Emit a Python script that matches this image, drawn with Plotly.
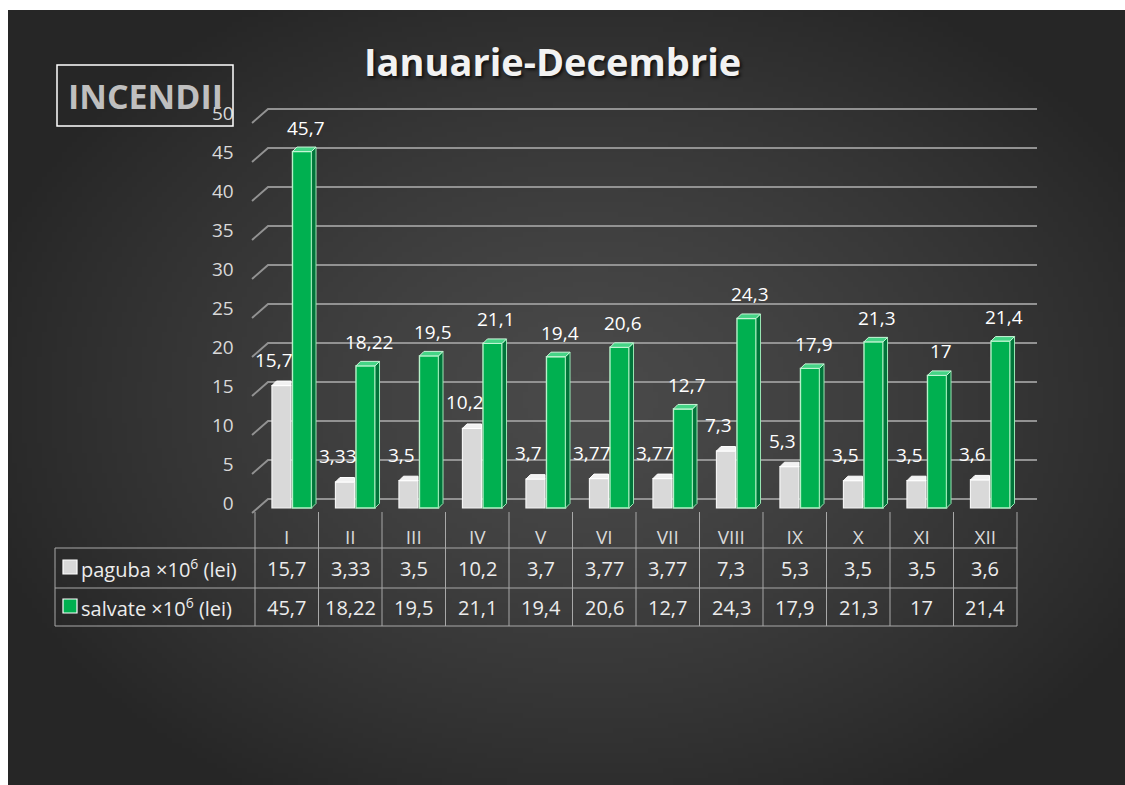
import base64
import struct
import zlib

import numpy as np
import plotly.graph_objects as go

# ---------------- data ----------------
months = ["I", "II", "III", "IV", "V", "VI", "VII", "VIII", "IX", "X", "XI", "XII"]
paguba = [15.7, 3.33, 3.5, 10.2, 3.7, 3.77, 3.77, 7.3, 5.3, 3.5, 3.5, 3.6]
salvate = [45.7, 18.22, 19.5, 21.1, 19.4, 20.6, 12.7, 24.3, 17.9, 21.3, 17, 21.4]
y_ticks = [0, 5, 10, 15, 20, 25, 30, 35, 40, 45, 50]
series_names = ["paguba ×10<sup>6</sup> (lei)", "salvate ×10<sup>6</sup> (lei)"]
title_text = "Ianuarie-Decembrie"
badge_text = "INCENDII"

# ---------------- geometry (page pixels) ----------------
W, H = 1125, 785          # figure fills the whole page (body margin removed)
OX, OY = 0, 0
FRAME_L, FRAME_T = 8, 10  # white frame of the original picture


def fx(xp):
    return (xp - OX) / W


def fy(yp):
    return 1 - (yp - OY) / H


COL0, COLW = 255.0, 63.5          # first table column left edge, column width
X_RANGE = [-0.6, 11.9]
left_px = COL0 + COLW * (X_RANGE[0] + 0.5)
right_px = COL0 + COLW * (X_RANGE[1] + 0.5)
BASE_PX, PPU = 508.0, 7.8         # zero line of bars, pixels per unit
top_px, bot_px = 100.0, 520.0
Y_RANGE = [(BASE_PX - bot_px) / PPU, (BASE_PX - top_px) / PPU]

G_OFF, S_OFF, BW = -0.083, 0.24, 0.30
DX, DY = 4.5 / COLW, 4.5 / PPU    # 3-D depth of bars

FONT = "Open Sans"
GREY, GREEN = "#d9d9d9", "#00b050"


def fmt(v):
    return f"{v:g}".replace(".", ",")


# ---------------- background gradient image ----------------
def gradient_png():
    gw, gh = 225, 157
    yy, xx = np.mgrid[0:gh, 0:gw]
    xp = (xx + 0.5) * W / gw
    yp = (yy + 0.5) * H / gh
    d = np.sqrt(((xp - 590) / 640.0) ** 2 + ((yp - 400) / 470.0) ** 2)
    val = 74 - (74 - 38) * np.clip(d, 0, 1) ** 1.3
    arr = np.clip(val, 0, 255).astype(np.uint8)
    raw = b"".join(b"\x00" + arr[r].tobytes() for r in range(gh))

    def chunk(tag, data):
        c = struct.pack(">I", len(data)) + tag + data
        return c + struct.pack(">I", zlib.crc32(tag + data) & 0xFFFFFFFF)

    png = b"\x89PNG\r\n\x1a\n"
    png += chunk(b"IHDR", struct.pack(">IIBBBBB", gw, gh, 8, 0, 0, 0, 0))
    png += chunk(b"IDAT", zlib.compress(raw, 9))
    png += chunk(b"IEND", b"")
    return "data:image/png;base64," + base64.b64encode(png).decode()


fig = go.Figure()

# ---------------- bars (front faces) ----------------
xg = [i + G_OFF for i in range(len(months))]
xs = [i + S_OFF for i in range(len(months))]

fig.add_trace(go.Bar(x=xg, y=paguba, width=BW, name="paguba",
                     marker=dict(color=GREY, line=dict(color="#f4f4f4", width=1.2)),
                     hoverinfo="skip", showlegend=False))
fig.add_trace(go.Bar(x=xs, y=salvate, width=BW, name="salvate",
                     marker=dict(color=GREEN, line=dict(color="#b6f2c9", width=1.4)),
                     hoverinfo="skip", showlegend=False))


# ---------------- 3-D side and top faces ----------------
def faces(xc_list, vals, clip_right):
    sx, sy, tx, ty = [], [], [], []
    for xc, v in zip(xc_list, vals):
        xl, xr = xc - BW / 2, xc + BW / 2
        sx += [xr, xr + DX, xr + DX, xr, xr, None]
        sy += [0, DY, v + DY, v, 0, None]
        if clip_right:
            tx += [xl, xl + DX, xr, xr, xl, None]
        else:
            tx += [xl, xl + DX, xr + DX, xr, xl, None]
        ty += [v, v + DY, v + DY, v, v, None]
    return sx, sy, tx, ty


gsx, gsy, gtx, gty = faces(xg, paguba, True)
ssx, ssy, stx, sty = faces(xs, salvate, False)
fig.add_trace(go.Scatter(x=gtx, y=gty, fill="toself", mode="lines",
                         fillcolor="#f2f2f2", line=dict(color="#ffffff", width=1),
                         hoverinfo="skip", showlegend=False))
fig.add_trace(go.Scatter(x=ssx, y=ssy, fill="toself", mode="lines",
                         fillcolor="#00753a", line=dict(color="#9be8b5", width=1),
                         hoverinfo="skip", showlegend=False))
fig.add_trace(go.Scatter(x=stx, y=sty, fill="toself", mode="lines",
                         fillcolor="#45d486", line=dict(color="#c8f7d8", width=1),
                         hoverinfo="skip", showlegend=False))

shapes = []

# white frame strips of the original picture
shapes.append(dict(type="rect", xref="paper", yref="paper", layer="above",
                   x0=0, x1=fx(FRAME_L), y0=0, y1=1,
                   fillcolor="#ffffff", line=dict(width=0)))
shapes.append(dict(type="rect", xref="paper", yref="paper", layer="above",
                   x0=0, x1=1, y0=fy(FRAME_T), y1=1,
                   fillcolor="#ffffff", line=dict(width=0)))

# ---------------- back-wall gridlines (through axes) ----------------
FRONT_X, BACK_X, END_X = -0.547, -0.295, 11.815
FRONT_DY, BACK_DY = -0.64, 1.154
for v in y_ticks:
    shapes.append(dict(
        type="path", xref="x", yref="y", layer="below",
        path=f"M {FRONT_X},{v + FRONT_DY} L {BACK_X},{v + BACK_DY} L {END_X},{v + BACK_DY}",
        line=dict(color="#929292", width=2)))

# ---------------- data table ----------------
TBL_L = 55
HDR_T, R1_T, R2_T, R2_B = 512, 548, 588, 626
TBL_R = COL0 + COLW * len(months)
LC = "#a8a8a8"
for i in range(len(months) + 1):
    xp = COL0 + COLW * i
    shapes.append(dict(type="line", xref="paper", yref="paper",
                       x0=fx(xp), x1=fx(xp), y0=fy(HDR_T), y1=fy(R2_B),
                       line=dict(color=LC, width=1)))
shapes.append(dict(type="line", xref="paper", yref="paper",
                   x0=fx(TBL_L), x1=fx(TBL_L), y0=fy(R1_T), y1=fy(R2_B),
                   line=dict(color=LC, width=1)))
for yp in (R1_T, R2_T, R2_B):
    shapes.append(dict(type="line", xref="paper", yref="paper",
                       x0=fx(TBL_L), x1=fx(TBL_R), y0=fy(yp), y1=fy(yp),
                       line=dict(color=LC, width=1)))

# legend keys
for yp0, col in ((560, GREY), (599, GREEN)):
    shapes.append(dict(type="rect", xref="paper", yref="paper",
                       x0=fx(63), x1=fx(77), y0=fy(yp0), y1=fy(yp0 + 14),
                       fillcolor=col, line=dict(color="#ffffff", width=1.2)))

# INCENDII box
shapes.append(dict(type="rect", xref="paper", yref="paper",
                   x0=fx(57), x1=fx(233), y0=fy(65), y1=fy(126),
                   line=dict(color="#ffffff", width=1.5)))

C = dict(xanchor="center", yanchor="middle", showarrow=False)
annotations = []
# title
annotations.append(dict(text=f"<b>{title_text}</b>", x=fx(552), y=fy(61),
                        xref="paper", yref="paper", **C,
                        font=dict(family=FONT, size=38, color="#f2f2f2",
                                  shadow="2px 2px 3px #111111")))
annotations.append(dict(text=f"<b>{badge_text}</b>", x=fx(145), y=fy(96),
                        xref="paper", yref="paper", **C,
                        font=dict(family=FONT, size=34, color="#bfbfbf")))

# data labels
for xc, v in zip(xg, paguba):
    annotations.append(dict(text=fmt(v), x=xc, y=v, xref="x", yref="y", **C,
                            xshift=-7, yshift=26,
                            font=dict(family=FONT, size=19, color="#ffffff")))
for xc, v in zip(xs, salvate):
    annotations.append(dict(text=fmt(v), x=xc, y=v, xref="x", yref="y", **C,
                            xshift=4, yshift=24,
                            font=dict(family=FONT, size=19, color="#ffffff")))

# table values
for row_vals, yc in ((paguba, 568), (salvate, 607)):
    for i, v in enumerate(row_vals):
        annotations.append(dict(text=fmt(v), x=i, y=fy(yc), xref="x", yref="paper", **C,
                                font=dict(family=FONT, size=20, color="#ececec")))
for name, yc in zip(series_names, (568, 607)):
    annotations.append(dict(text=name, x=fx(79), y=fy(yc), xref="paper", yref="paper",
                            xanchor="left", yanchor="middle", showarrow=False,
                            font=dict(family=FONT, size=20, color="#ececec")))

fig.update_layout(
    width=W, height=H,
    margin=dict(l=0, r=0, t=0, b=0),
    paper_bgcolor="#333333",
    plot_bgcolor="rgba(0,0,0,0)",
    barmode="overlay",
    showlegend=False,
    shapes=shapes,
    annotations=annotations,
    images=[dict(source=gradient_png(), xref="paper", yref="paper",
                 x=0, y=1, sizex=1, sizey=1, sizing="stretch",
                 xanchor="left", yanchor="top", layer="below")],
    xaxis=dict(domain=[fx(left_px), fx(right_px)], range=X_RANGE,
               tickvals=list(range(len(months))), ticktext=months,
               showgrid=False, zeroline=False, showline=False, ticks="",
               tickfont=dict(family=FONT, size=19, color="#d9d9d9"),
               ticklabelstandoff=4),
    yaxis=dict(domain=[fy(bot_px), fy(top_px)], range=Y_RANGE,
               tickvals=y_ticks, showgrid=False, zeroline=False, showline=False,
               ticks="", ticklabelshift=-5, ticklabelstandoff=14,
               tickfont=dict(family=FONT, size=19, color="#d9d9d9")),
)

fig.write_html(
    "out.html",
    config={"displayModeBar": False},
    post_script="document.body.style.margin='0';document.body.style.overflow='hidden';",
)
